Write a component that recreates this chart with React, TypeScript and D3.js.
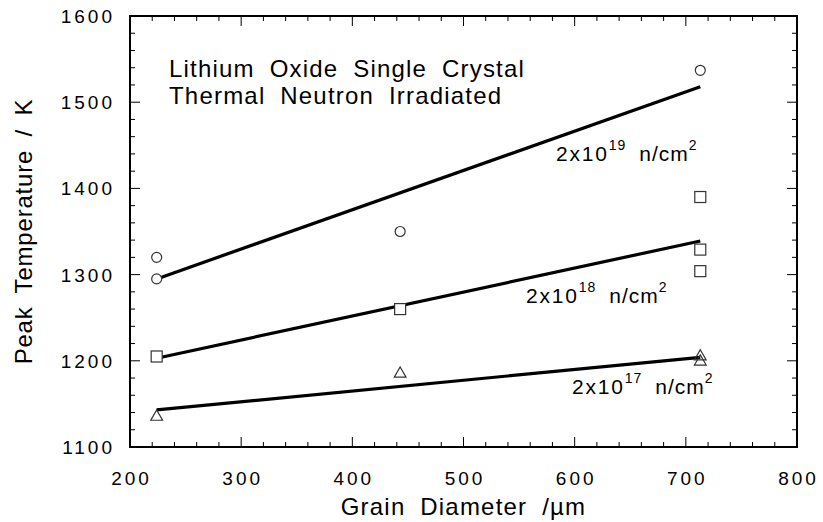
import React from 'react';
import * as d3 from 'd3';

// values
const xDomain = [200, 800];
const yDomain = [1100, 1600];
const xTickLabels = [200, 300, 400, 500, 600, 700, 800];
const yTickLabels = [1100, 1200, 1300, 1400, 1500, 1600];

// measured peaks: [grain diameter (um), peak temperature (K)]
const circles19 = [[224, 1320], [224, 1295], [443, 1350], [713, 1537]];
const squares18 = [[224, 1205], [443, 1260], [713, 1390], [713, 1329], [713, 1304]];
const triangles17 = [[224, 1135], [443, 1185], [713, 1205], [713, 1199]];

// fitted lines (end points)
const fit19 = [[224, 1295], [713, 1518]];
const fit18 = [[224, 1203], [713, 1339]];
const fit17 = [[224, 1143], [713, 1204]];

const fluenceLabels = [
  { exp: '19', at: [556, 161] },
  { exp: '18', at: [526, 303] },
  { exp: '17', at: [572, 394] },
];

const W = 823;
const H = 522;
const margin = { top: 16, right: 26, bottom: 75, left: 130 };
const FONT = '"Liberation Sans", Arial, Helvetica, sans-serif';

const App = () => {
  const x = d3.scaleLinear().domain(xDomain).range([margin.left, W - margin.right]);
  const y = d3.scaleLinear().domain(yDomain).range([H - margin.bottom, margin.top]);
  const [x0, x1] = x.range();
  const [y0, y1] = y.range();

  const line = d3.line<number[]>().x(d => x(d[0])).y(d => y(d[1]));
  const xMinor = x.ticks(30);
  const yMinor = y.ticks(25);
  const isMajor = (v: number) => v % 100 === 0;

  const mark = { fill: '#fff', stroke: '#333', strokeWidth: 1.2 };

  return (
    <svg width={W} height={H} style={{ position: 'absolute', left: 0, top: 0 }} fontFamily={FONT}>
      <rect x={0} y={0} width={W} height={H} fill="#fff" />

      {/* ticks on all four sides, pointing inward */}
      <g stroke="#000" strokeWidth={1}>
        {xMinor.map(v => {
          const len = isMajor(v) ? 10 : 5;
          return (
            <g key={'xt' + v}>
              <line x1={x(v)} x2={x(v)} y1={y0} y2={y0 - len} />
              <line x1={x(v)} x2={x(v)} y1={y1} y2={y1 + len} />
            </g>
          );
        })}
        {yMinor.map(v => {
          const len = isMajor(v) ? 10 : 5;
          return (
            <g key={'yt' + v}>
              <line x1={x0} x2={x0 + len} y1={y(v)} y2={y(v)} />
              <line x1={x1} x2={x1 - len} y1={y(v)} y2={y(v)} />
            </g>
          );
        })}
      </g>
      <rect x={x0} y={y1} width={x1 - x0} height={y0 - y1} fill="none" stroke="#000" strokeWidth={2} />

      {/* tick labels */}
      <g fontSize={19} letterSpacing={3} fill="#000">
        {xTickLabels.map(v => (
          <text key={'xl' + v} x={x(v) + 1.5} y={485} textAnchor="middle">{v}</text>
        ))}
        {yTickLabels.map(v => (
          <text key={'yl' + v} x={x0 - 15} y={y(v) + 7} textAnchor="end">{v}</text>
        ))}
      </g>

      {/* axis titles */}
      <text x={(x0 + x1) / 2} y={515} textAnchor="middle" fontSize={24} letterSpacing={1.2} wordSpacing={7}>
        Grain Diameter /µm
      </text>
      <text transform={`translate(32,${(y0 + y1) / 2}) rotate(-90)`} textAnchor="middle" fontSize={24} letterSpacing={0.8} wordSpacing={6}>
        Peak Temperature / K
      </text>

      {/* title */}
      <g fontSize={24} letterSpacing={1.2} wordSpacing={7}>
        <text x={169} y={77}>Lithium Oxide Single Crystal</text>
        <text x={169} y={104}>Thermal Neutron Irradiated</text>
      </g>

      {/* fitted lines */}
      <g fill="none" stroke="#000" strokeWidth={3.2}>
        <path d={line(fit19) || ''} />
        <path d={line(fit18) || ''} />
        <path d={line(fit17) || ''} />
      </g>

      {/* data markers */}
      <g>
        {circles19.map((d, i) => (
          <circle key={'c' + i} cx={x(d[0])} cy={y(d[1])} r={5} {...mark} />
        ))}
        {squares18.map((d, i) => (
          <rect key={'s' + i} x={x(d[0]) - 5.5} y={y(d[1]) - 5.5} width={11} height={11} {...mark} />
        ))}
        {triangles17.map((d, i) => (
          <path key={'t' + i} d={d3.symbol(d3.symbolTriangle, 60)() || ''} transform={`translate(${x(d[0])},${y(d[1])})`} {...mark} fill="none" />
        ))}
      </g>

      {/* fluence labels */}
      <g fontSize={21} letterSpacing={1.8}>
        {fluenceLabels.map(l => (
          <text key={l.exp} x={l.at[0]} y={l.at[1]}>
            2x10
            <tspan fontSize={14} letterSpacing={1} dy={-11}>{l.exp}</tspan>
            <tspan dy={11} dx={13} letterSpacing={1}>n/cm</tspan>
            <tspan fontSize={14} dy={-11}>2</tspan>
          </text>
        ))}
      </g>
    </svg>
  );
};

export default App;
